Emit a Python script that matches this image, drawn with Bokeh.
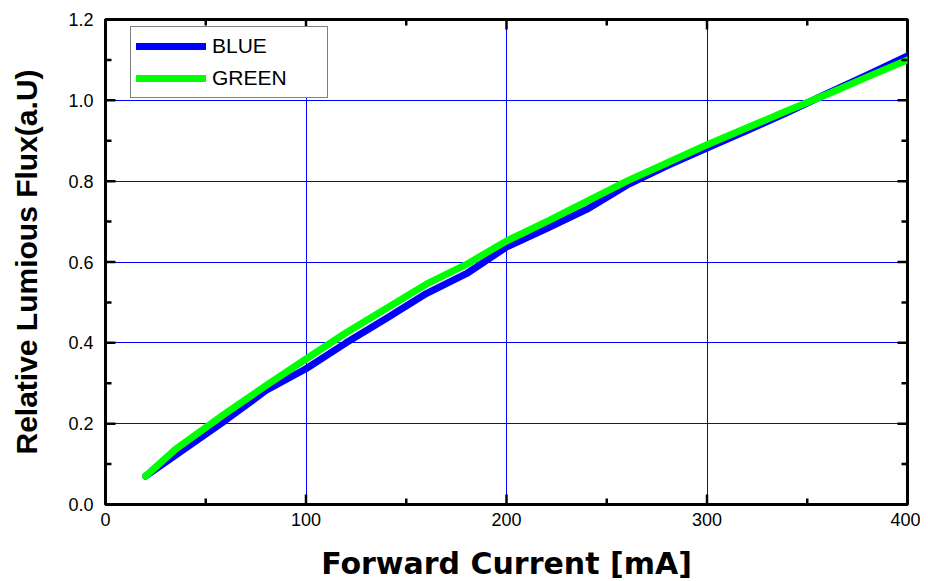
from bokeh.plotting import figure
from bokeh.models import FixedTicker, PrintfTickFormatter, Legend, LegendItem, Range1d
from bokeh.embed import file_html
from bokeh.resources import INLINE

current = [20, 35, 60, 80, 100, 120, 140, 160, 180, 200, 220, 240, 260, 280, 300, 320, 340, 360, 380, 400]
blue = [0.07, 0.122, 0.209, 0.282, 0.336, 0.40, 0.46, 0.522, 0.571, 0.637, 0.683, 0.73, 0.79, 0.838, 0.882, 0.925, 0.97, 1.017, 1.063, 1.11]
green = [0.07, 0.137, 0.226, 0.294, 0.36, 0.425, 0.485, 0.545, 0.594, 0.652, 0.70, 0.75, 0.80, 0.845, 0.89, 0.932, 0.974, 1.015, 1.058, 1.10]

x_ticks = [0, 100, 200, 300, 400]
x_minor = [50, 150, 250, 350]
y_ticks = [0.0, 0.2, 0.4, 0.6, 0.8, 1.0, 1.2]
y_minor = [0.1, 0.3, 0.5, 0.7, 0.9, 1.1]

FW, FH = 802, 485
X0, X1, Y0, Y1 = 0, 400, 0, 1.2

p = figure(frame_width=FW, frame_height=FH, output_backend="svg", toolbar_location=None,
           x_range=Range1d(X0, X1), y_range=Range1d(Y0, Y1),
           min_border_left=105, min_border_top=19, min_border_right=13, min_border_bottom=75)
p.background_fill_color = "white"
p.border_fill_color = "white"
p.outline_line_color = "black"
p.outline_line_width = 3

p.xgrid.ticker = FixedTicker(ticks=x_ticks)
p.ygrid.ticker = FixedTicker(ticks=y_ticks)
p.xgrid.grid_line_color = "#0000ff"
p.ygrid.grid_line_color = "#0000ff"
p.xgrid.grid_line_width = 1
p.ygrid.grid_line_width = 1

rb = p.line(current, blue, line_color="#0000ff", line_width=7, line_cap="round", line_join="round")
rg = p.line(current, green, line_color="#00ff00", line_width=7, line_cap="round", line_join="round")

# inward tick marks on all four sides, placed from the tick arrays
dx_major = 10 * (X1 - X0) / FW
dy_major = 10 * (Y1 - Y0) / FH
dx_minor = 6 * (X1 - X0) / FW
dy_minor = 6 * (Y1 - Y0) / FH
for ticks, ln_y in ((x_ticks, dy_major), (x_minor, dy_minor)):
    p.segment(x0=ticks, y0=[Y0] * len(ticks), x1=ticks, y1=[Y0 + ln_y] * len(ticks), line_color="black", line_width=2.5)
    p.segment(x0=ticks, y0=[Y1] * len(ticks), x1=ticks, y1=[Y1 - ln_y] * len(ticks), line_color="black", line_width=2.5)
for ticks, ln_x in ((y_ticks, dx_major), (y_minor, dx_minor)):
    p.segment(x0=[X0] * len(ticks), y0=ticks, x1=[X0 + ln_x] * len(ticks), y1=ticks, line_color="black", line_width=2.5)
    p.segment(x0=[X1] * len(ticks), y0=ticks, x1=[X1 - ln_x] * len(ticks), y1=ticks, line_color="black", line_width=2.5)

def style_axis(ax, ticks, minor):
    ax.ticker = FixedTicker(ticks=ticks, minor_ticks=minor)
    ax.axis_line_color = "black"
    ax.axis_line_width = 3
    ax.major_tick_in = 0
    ax.major_tick_out = 0
    ax.minor_tick_in = 0
    ax.minor_tick_out = 0
    ax.major_label_text_font = "Liberation Sans"
    ax.major_label_text_font_size = "18px"
    ax.major_label_text_color = "black"

xa = p.xaxis[0]
ya = p.yaxis[0]
style_axis(xa, x_ticks, x_minor)
style_axis(ya, y_ticks, y_minor)
ya.formatter = PrintfTickFormatter(format="%.1f")
xa.major_label_standoff = 8
ya.major_label_standoff = 12

xa.axis_label = "Forward Current [mA]"
xa.axis_label_text_font = "DejaVu Sans"
xa.axis_label_text_font_style = "bold"
xa.axis_label_text_font_size = "30px"
xa.axis_label_text_color = "black"
xa.axis_label_standoff = 17

ya.axis_label = "Relative Lumious Flux(a.U)"
ya.axis_label_text_font = "Liberation Sans"
ya.axis_label_text_font_style = "bold"
ya.axis_label_text_font_size = "30px"
ya.axis_label_text_color = "black"
ya.axis_label_standoff = 22

legend = Legend(items=[LegendItem(label="BLUE", renderers=[rb]), LegendItem(label="GREEN", renderers=[rg])],
                location=(25, 406))
legend.border_line_color = "black"
legend.border_line_width = 1
legend.background_fill_color = "white"
legend.background_fill_alpha = 1
legend.glyph_width = 70
legend.glyph_height = 28
legend.label_width = 110
legend.label_text_font = "Liberation Sans"
legend.label_text_font_size = "21px"
legend.label_text_color = "black"
legend.label_standoff = 6
legend.padding = 5
legend.spacing = 4
legend.margin = 0
p.add_layout(legend, "center")

open("out.html", "w").write(file_html(p, INLINE))
